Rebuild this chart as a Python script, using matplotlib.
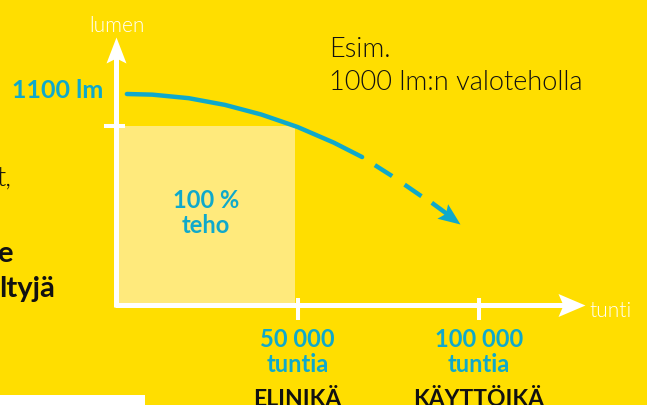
import numpy as np
import matplotlib
matplotlib.use("Agg")
import matplotlib.pyplot as plt
from matplotlib.patches import Rectangle
from matplotlib.path import Path
from matplotlib.transforms import blended_transform_factory

# ---------------- data ----------------
hours_solid = [3000, 10000, 20000, 30000, 40000, 50000, 60000, 67800]
lumen_solid = [1100, 1098, 1087, 1066, 1036, 997, 948, 903]
hours_dashed = [67800, 76000, 83700, 87000]
lumen_dashed = [903, 844, 784, 760]
arrow_tip_hours = 94800
arrow_tip_lumen = 695

x_ticks = [50000, 100000]
x_tick_values = ["50 000", "100 000"]
x_tick_units = ["tuntia", "tuntia"]
x_tick_names = ["ELINIKÄ", "KÄYTTÖIKÄ"]
y_tick = 1000
start_label = "1100 lm"
box_hours = 50000
box_label = ["100 %", "teho"]
note_lines = ["Esim.", "1000 lm:n valoteholla"]
x_label = "tunti"
y_label = "lumen"

# ---------------- style ----------------
YELLOW = "#FFDE00"
LIGHT = "#FFEA7C"
CYAN = "#0FA9CB"
WHITE = "#FFFFFF"
BLACK = "#111111"
W, H = 647, 405
LW = 300  # light font weight

fig = plt.figure(figsize=(W / 100, H / 100), dpi=100)
fig.patch.set_facecolor(YELLOW)
ax = fig.add_axes([0, 0, 1, 1])
ax.set_facecolor(YELLOW)
ax.axis("off")

# pixel layout -> data limits
X0_PX, XSCALE = 116, 0.00363          # px per hour
Y1000_PX, YSCALE = 126, 0.32           # px per lumen
ax.set_xlim(-X0_PX / XSCALE, (W - X0_PX) / XSCALE)
ax.set_ylim(y_tick - (H - Y1000_PX) / YSCALE, y_tick + Y1000_PX / YSCALE)
base = y_tick - (305 - Y1000_PX) / YSCALE      # x-axis level
y_top = y_tick + (Y1000_PX - 37) / YSCALE      # y-axis arrow tip
x_right = (585 - X0_PX) / XSCALE               # x-axis arrow tip


def px(x, y):
    return x / W, 1 - y / H

FL = "Lato"

# light box
ax.add_patch(Rectangle((0, base), box_hours * 0.985, y_tick - base,
                       facecolor=LIGHT, edgecolor="none", zorder=1))

# notched arrow head marker
def head(angle_deg, length, half, notch):
    verts = np.array([[0, 0], [-length, half], [-length + notch, 0],
                      [-length, -half], [0, 0]], float)
    a = np.deg2rad(angle_deg)
    R = np.array([[np.cos(a), -np.sin(a)], [np.sin(a), np.cos(a)]])
    verts = verts @ R.T
    return Path(verts, [Path.MOVETO, Path.LINETO, Path.LINETO, Path.LINETO, Path.CLOSEPOLY])

def put_head(x, y, angle, length, half, notch, color):
    p = head(angle, length, half, notch)
    m = np.abs(p.vertices).max()
    ms = 2 * m * 0.72
    ax.plot([x], [y], marker=p, markersize=ms, color=color, mew=0,
            linestyle="none", zorder=6)

# axes lines
ax.plot([0, 0], [base - 2.0 / YSCALE, y_top - 20 / YSCALE], color=WHITE, lw=3.6,
        solid_capstyle="butt", zorder=5)
ax.plot([-1.5 / XSCALE, x_right - 20 / XSCALE], [base, base], color=WHITE, lw=3.6,
        solid_capstyle="butt", zorder=5)
put_head(0, y_top, 90, 26, 10, 5, WHITE)
put_head(x_right, base, 0, 27, 11.5, 5, WHITE)

# ticks
ax.plot([-12 / XSCALE, 9 / XSCALE], [y_tick, y_tick], color=WHITE, lw=2.9,
        solid_capstyle="butt", zorder=5)
for xt in x_ticks:
    ax.plot([xt, xt], [base + 7 / YSCALE, base - 15 / YSCALE], color=WHITE, lw=2.9,
            solid_capstyle="butt", zorder=5)

# curve
ax.plot(hours_solid, lumen_solid, color=CYAN, lw=3.2, solid_capstyle="round",
        zorder=4)
ax.plot(hours_dashed, lumen_dashed, color=CYAN, lw=3.2,
        linestyle=(4.6, (4.6, 3.4)), dash_capstyle="butt", zorder=4)
ax.plot([hours_dashed[-1], arrow_tip_hours - 6 / XSCALE],
        [lumen_dashed[-1], arrow_tip_lumen + 4.5 / YSCALE], color=CYAN, lw=3.2,
        solid_capstyle="butt", zorder=4)
# head angle in display space
d0 = ax.transData.transform((hours_dashed[-1], lumen_dashed[-1]))
d1 = ax.transData.transform((arrow_tip_hours, arrow_tip_lumen))
ang = np.degrees(np.arctan2(d1[1] - d0[1], d1[0] - d0[0]))
put_head(arrow_tip_hours, arrow_tip_lumen, ang, 22, 9, 4, CYAN)

# texts
T = ax.transAxes
ax.text(*px(117, 32), y_label, transform=T, ha="center", va="baseline",
        color=WHITE, fontsize=15, family=FL, fontweight=LW)
ax.text(*px(589, 317), x_label, transform=T, ha="left", va="baseline",
        color=WHITE, fontsize=15, family=FL, fontweight=LW)
ax.text(*px(329, 57), note_lines[0], transform=T, ha="left", va="baseline",
        color=BLACK, fontsize=19.5, family=FL, fontweight=LW)
ax.text(*px(329, 90), note_lines[1], transform=T, ha="left", va="baseline",
        color=BLACK, fontsize=19.5, family=FL, fontweight=LW)
ax.text(*px(103, 98), start_label, transform=T, ha="right", va="baseline",
        color=CYAN, fontsize=18, family=FL, fontweight="bold")
ax.text(*px(206, 208), box_label[0], transform=T, ha="center", va="baseline",
        color=CYAN, fontsize=17, family=FL, fontweight="bold")
ax.text(*px(206, 233), box_label[1], transform=T, ha="center", va="baseline",
        color=CYAN, fontsize=17, family=FL, fontweight="bold")

bt = blended_transform_factory(ax.transData, ax.transAxes)
for xt, v, u, n in zip(x_ticks, x_tick_values, x_tick_units, x_tick_names):
    ax.text(xt, 1 - 347 / H, v, transform=bt, ha="center", va="baseline",
            color=CYAN, fontsize=17, family=FL, fontweight="bold")
    ax.text(xt, 1 - 372 / H, u, transform=bt, ha="center", va="baseline",
            color=CYAN, fontsize=17, family=FL, fontweight="bold")
    ax.text(xt, 1 - 406 / H, n, transform=bt, ha="center", va="baseline",
            color=BLACK, fontsize=16.5, family=FL, fontweight="bold")

# cropped fragments on the left
ax.text(*px(11, 186), "t,", transform=T, ha="right", va="baseline",
        color=BLACK, fontsize=19.5, family=FL, fontweight=LW)
ax.text(*px(13, 262), "e", transform=T, ha="right", va="baseline",
        color=BLACK, fontsize=21, family=FL, fontweight="bold")
ax.text(*px(55, 297), "ltyjä", transform=T, ha="right", va="baseline",
        color=BLACK, fontsize=21, family=FL, fontweight="bold")
ax.add_patch(Rectangle(px(0, 405), 145 / W, 10 / H, transform=T,
                       facecolor=WHITE, edgecolor="none", zorder=3))

fig.savefig("out.png", dpi=100, facecolor=YELLOW)
